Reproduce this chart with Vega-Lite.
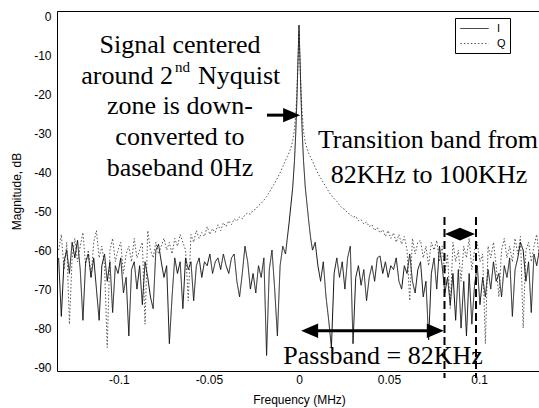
{
  "$schema": "https://vega.github.io/schema/vega-lite/v6.json",
  "autosize": {"type": "none"},
  "padding": {"left": 57, "top": 11, "right": 0, "bottom": 37},
  "width": 484,
  "height": 360,
  "background": "#ffffff",
  "config": {
    "view": {"stroke": "#000000", "strokeWidth": 1},
    "axis": {"domain": false, "ticks": false, "grid": false, "labelFont": "Liberation Sans", "labelFontSize": 12, "labelColor": "#000000", "titleFont": "Liberation Sans", "titleFontSize": 12, "titleFontWeight": "normal", "titleColor": "#000000"}
  },
  "datasets": {
    "spec": [
      {"f":-0.1335,"I":-62,"Q":-60},{"f":-0.132,"I":-77,"Q":-56},{"f":-0.1305,"I":-63,"Q":-65},{"f":-0.129,"I":-60,"Q":-58},
      {"f":-0.1275,"I":-66,"Q":-79},{"f":-0.126,"I":-58,"Q":-62},{"f":-0.1245,"I":-62,"Q":-57},{"f":-0.123,"I":-57.5,"Q":-63},
      {"f":-0.1215,"I":-65,"Q":-59},{"f":-0.12,"I":-78,"Q":-55.5},{"f":-0.1185,"I":-63,"Q":-64},{"f":-0.117,"I":-61,"Q":-60},
      {"f":-0.1155,"I":-67,"Q":-67},{"f":-0.114,"I":-62,"Q":-58},{"f":-0.1125,"I":-70,"Q":-55},{"f":-0.111,"I":-78,"Q":-62},
      {"f":-0.1095,"I":-64,"Q":-59},{"f":-0.108,"I":-61,"Q":-64},{"f":-0.1065,"I":-68,"Q":-85},{"f":-0.105,"I":-63,"Q":-60},
      {"f":-0.1035,"I":-76,"Q":-57},{"f":-0.102,"I":-64,"Q":-63},{"f":-0.1005,"I":-66,"Q":-60},{"f":-0.099,"I":-62,"Q":-58},
      {"f":-0.0975,"I":-71,"Q":-66},{"f":-0.096,"I":-67,"Q":-61},{"f":-0.0945,"I":-82,"Q":-59},{"f":-0.093,"I":-65,"Q":-63},
      {"f":-0.0915,"I":-63,"Q":-57},{"f":-0.09,"I":-70,"Q":-62},{"f":-0.0885,"I":-64,"Q":-60},{"f":-0.087,"I":-74,"Q":-58},
      {"f":-0.0855,"I":-63,"Q":-79},{"f":-0.084,"I":-67,"Q":-55},{"f":-0.0825,"I":-72,"Q":-60},{"f":-0.081,"I":-75,"Q":-62},
      {"f":-0.0795,"I":-60,"Q":-58},{"f":-0.078,"I":-58.5,"Q":-61},{"f":-0.0765,"I":-63,"Q":-59},{"f":-0.075,"I":-67,"Q":-57},
      {"f":-0.0735,"I":-64,"Q":-60},{"f":-0.072,"I":-84,"Q":-58},{"f":-0.0705,"I":-72,"Q":-61},{"f":-0.069,"I":-62,"Q":-57},
      {"f":-0.0675,"I":-66,"Q":-59},{"f":-0.066,"I":-63,"Q":-56},{"f":-0.0645,"I":-75,"Q":-58},{"f":-0.063,"I":-62,"Q":-60},
      {"f":-0.0615,"I":-65,"Q":-73},{"f":-0.06,"I":-63,"Q":-56},{"f":-0.0585,"I":-73,"Q":-58},{"f":-0.057,"I":-64,"Q":-55},
      {"f":-0.0555,"I":-62,"Q":-57},{"f":-0.054,"I":-67,"Q":-55.5},{"f":-0.0525,"I":-63,"Q":-56.5},{"f":-0.051,"I":-64,"Q":-54},
      {"f":-0.0495,"I":-61,"Q":-56},{"f":-0.048,"I":-66,"Q":-54.5},{"f":-0.0465,"I":-63,"Q":-55.5},{"f":-0.045,"I":-62,"Q":-53.5},
      {"f":-0.0435,"I":-65,"Q":-55},{"f":-0.042,"I":-61,"Q":-53},{"f":-0.0405,"I":-64,"Q":-54},{"f":-0.039,"I":-66,"Q":-52.5},
      {"f":-0.0375,"I":-62,"Q":-53.5},{"f":-0.036,"I":-61,"Q":-52},{"f":-0.0345,"I":-68,"Q":-52.5},{"f":-0.033,"I":-72,"Q":-51.5},
      {"f":-0.0315,"I":-66,"Q":-52},{"f":-0.03,"I":-59,"Q":-51},{"f":-0.0285,"I":-63,"Q":-50.5},{"f":-0.027,"I":-70,"Q":-50.8},
      {"f":-0.0255,"I":-66,"Q":-49.8},{"f":-0.024,"I":-71,"Q":-49.5},{"f":-0.0225,"I":-64,"Q":-48.6},{"f":-0.021,"I":-67,"Q":-48},
      {"f":-0.0195,"I":-62,"Q":-47.2},{"f":-0.018,"I":-87,"Q":-46.3},{"f":-0.0165,"I":-65,"Q":-45.2},{"f":-0.015,"I":-60,"Q":-44},
      {"f":-0.0135,"I":-70,"Q":-42.8},{"f":-0.012,"I":-82,"Q":-41.5},{"f":-0.0105,"I":-64,"Q":-40.2},{"f":-0.009,"I":-59,"Q":-38.6},
      {"f":-0.0075,"I":-61,"Q":-37},
      {"f":-0.0065,"I":-57,"Q":-36},{"f":-0.0055,"I":-53,"Q":-35},{"f":-0.0045,"I":-48.5,"Q":-33.8},{"f":-0.0035,"I":-44,"Q":-32},
      {"f":-0.0025,"I":-37,"Q":-29},{"f":-0.0018,"I":-30,"Q":-25},{"f":-0.0012,"I":-22,"Q":-20},{"f":-0.0006,"I":-12,"Q":-12},
      {"f":0,"I":-2.3,"Q":-4},
      {"f":0.0006,"I":-12,"Q":-12},{"f":0.0012,"I":-22,"Q":-20},{"f":0.0018,"I":-30,"Q":-25},{"f":0.0025,"I":-37,"Q":-29.5},
      {"f":0.0035,"I":-44,"Q":-32.5},{"f":0.0045,"I":-48.5,"Q":-34},{"f":0.0055,"I":-53,"Q":-35.3},{"f":0.0065,"I":-57,"Q":-36.3},
      {"f":0.0075,"I":-60,"Q":-37.2},{"f":0.009,"I":-58,"Q":-38.8},{"f":0.0105,"I":-64,"Q":-40.3},{"f":0.012,"I":-68,"Q":-41.5},
      {"f":0.0135,"I":-63,"Q":-42.7},{"f":0.015,"I":-72,"Q":-43.8},{"f":0.0165,"I":-78,"Q":-45},{"f":0.018,"I":-85,"Q":-46},
      {"f":0.0195,"I":-66,"Q":-46.8},{"f":0.021,"I":-62,"Q":-47.5},{"f":0.0225,"I":-67,"Q":-48.5},{"f":0.024,"I":-63,"Q":-49.2},
      {"f":0.0255,"I":-70,"Q":-49.6},{"f":0.027,"I":-62,"Q":-50.5},{"f":0.0285,"I":-59,"Q":-50.9},{"f":0.03,"I":-84,"Q":-51.6},
      {"f":0.0315,"I":-67,"Q":-51.3},{"f":0.033,"I":-64,"Q":-52.5},{"f":0.0345,"I":-69,"Q":-52.2},{"f":0.036,"I":-65,"Q":-53.3},
      {"f":0.0375,"I":-73,"Q":-52.8},{"f":0.039,"I":-67,"Q":-54},{"f":0.0405,"I":-64,"Q":-53.5},{"f":0.042,"I":-68,"Q":-55},
      {"f":0.0435,"I":-62,"Q":-54.2},{"f":0.045,"I":-61.5,"Q":-55.6},{"f":0.0465,"I":-66,"Q":-54.8},{"f":0.048,"I":-63,"Q":-56.5},
      {"f":0.0495,"I":-67,"Q":-55},{"f":0.051,"I":-64,"Q":-57},{"f":0.0525,"I":-65,"Q":-55.6},{"f":0.054,"I":-62,"Q":-58},
      {"f":0.0555,"I":-68,"Q":-56},{"f":0.057,"I":-70,"Q":-58.5},{"f":0.0585,"I":-64,"Q":-56.5},{"f":0.06,"I":-66,"Q":-60},
      {"f":0.0615,"I":-61,"Q":-73},{"f":0.063,"I":-68,"Q":-57},{"f":0.0645,"I":-71,"Q":-61},{"f":0.066,"I":-65,"Q":-58},
      {"f":0.0675,"I":-63,"Q":-57.5},{"f":0.069,"I":-72,"Q":-62},{"f":0.0705,"I":-68,"Q":-59},{"f":0.072,"I":-83,"Q":-64},
      {"f":0.0735,"I":-66,"Q":-58},{"f":0.075,"I":-62,"Q":-60},{"f":0.0765,"I":-70,"Q":-57.5},{"f":0.078,"I":-59,"Q":-63},
      {"f":0.0795,"I":-64,"Q":-59},{"f":0.081,"I":-71,"Q":-66},{"f":0.0825,"I":-67,"Q":-61},{"f":0.084,"I":-74,"Q":-75},
      {"f":0.0855,"I":-66,"Q":-58},{"f":0.087,"I":-78,"Q":-63},{"f":0.0885,"I":-65,"Q":-60},{"f":0.09,"I":-80,"Q":-68},
      {"f":0.0915,"I":-68,"Q":-59},{"f":0.093,"I":-82,"Q":-62},{"f":0.0945,"I":-66,"Q":-57},{"f":0.096,"I":-79,"Q":-65},
      {"f":0.0975,"I":-69,"Q":-60},{"f":0.099,"I":-64,"Q":-58},{"f":0.1005,"I":-74,"Q":-63},{"f":0.102,"I":-67,"Q":-61},
      {"f":0.1035,"I":-72,"Q":-84},{"f":0.105,"I":-65,"Q":-59},{"f":0.1065,"I":-70,"Q":-62},{"f":0.108,"I":-63,"Q":-58},
      {"f":0.1095,"I":-68,"Q":-64},{"f":0.111,"I":-66,"Q":-72},{"f":0.1125,"I":-72,"Q":-60},{"f":0.114,"I":-64,"Q":-57},
      {"f":0.1155,"I":-67,"Q":-62},{"f":0.117,"I":-62,"Q":-59},{"f":0.1185,"I":-77,"Q":-63},{"f":0.12,"I":-65,"Q":-57},
      {"f":0.1215,"I":-62,"Q":-61},{"f":0.123,"I":-58,"Q":-56.5},{"f":0.1245,"I":-60,"Q":-80},{"f":0.126,"I":-68,"Q":-60},
      {"f":0.1275,"I":-63,"Q":-58},{"f":0.129,"I":-76,"Q":-63},{"f":0.1305,"I":-61,"Q":-59},{"f":0.132,"I":-64,"Q":-56},
      {"f":0.1335,"I":-60,"Q":-62}
    ]
  },
  "encoding": {
    "x": {"field": "f", "type": "quantitative", "title": "Frequency (MHz)",
      "scale": {"domain": [-0.1344, 0.1344], "nice": false, "zero": false},
      "axis": {"values": [-0.1, -0.05, 0, 0.05, 0.1], "labelExpr": "'' + datum.value", "labelPadding": 3, "titlePadding": 9}},
    "y": {"field": "dB", "type": "quantitative", "title": "Magnitude, dB",
      "scale": {"domain": [-91, 1.3], "nice": false, "zero": false},
      "axis": {"values": [-90, -80, -70, -60, -50, -40, -30, -20, -10, 0], "labelExpr": "'' + datum.value", "labelPadding": 6, "titlePadding": 10}}
  },
  "layer": [
    {
      "data": {"name": "spec"},
      "transform": [{"fold": ["I", "Q"], "as": ["series", "dB"]}, {"filter": "datum.series === 'Q'"}],
      "mark": {"type": "line", "strokeWidth": 1, "clip": true},
      "encoding": {
        "color": {"field": "series", "type": "nominal", "scale": {"domain": ["I", "Q"], "range": ["#111111", "#555555"]},
          "legend": {"orient": "none", "legendX": 398, "legendY": 7, "title": null, "strokeColor": "#000000", "fillColor": "#ffffff", "padding": 4, "symbolType": "M-2.35,0L2.35,0", "symbolSize": 144, "symbolOffset": 9, "symbolStrokeWidth": 1, "labelFont": "Liberation Sans", "labelFontSize": 11, "labelColor": "#000000", "rowPadding": 3, "labelOffset": 16, "cornerRadius": 0}},
        "strokeDash": {"field": "series", "type": "nominal", "scale": {"domain": ["I", "Q"], "range": [[1, 0], [1.5, 2]]},
          "legend": {"orient": "none", "legendX": 398, "legendY": 7, "title": null, "strokeColor": "#000000", "fillColor": "#ffffff", "padding": 4, "symbolType": "M-2.35,0L2.35,0", "symbolSize": 144, "symbolOffset": 9, "symbolStrokeWidth": 1, "labelFont": "Liberation Sans", "labelFontSize": 11, "labelColor": "#000000", "rowPadding": 3, "labelOffset": 16, "cornerRadius": 0}}
      }
    },
    {
      "data": {"name": "spec"},
      "transform": [{"fold": ["I", "Q"], "as": ["series", "dB"]}, {"filter": "datum.series === 'I'"}],
      "mark": {"type": "line", "strokeWidth": 1, "clip": true},
      "encoding": {
        "color": {"field": "series", "type": "nominal"},
        "strokeDash": {"field": "series", "type": "nominal"}
      }
    },
    {
      "data": {"values": [{"f": 0.0808, "dB": -51.5, "dB2": -92.8}, {"f": 0.0983, "dB": -51.5, "dB2": -92.8}]},
      "mark": {"type": "rule", "color": "#000000", "strokeWidth": 2, "strokeDash": [8, 4], "clip": false},
      "encoding": {"y2": {"field": "dB2"}}
    },
    {
      "data": {"values": [{"f": -0.0178, "f2": -0.005, "dB": -25.4}, {"f": 0.0061, "f2": 0.0761, "dB": -80.7}]},
      "mark": {"type": "rule", "color": "#000000", "strokeWidth": 3},
      "encoding": {"x2": {"field": "f2"}}
    },
    {
      "data": {"values": [{"f": -0.0041, "dB": -25.4}, {"f": 0.0757, "dB": -80.7}]},
      "mark": {"type": "point", "shape": "M1,0L-1,-0.85L-1,0.85Z", "size": 289, "filled": true, "color": "#000000", "opacity": 1}
    },
    {
      "data": {"values": [{"f": 0.0059, "dB": -80.7}]},
      "mark": {"type": "point", "shape": "M-1,0L1,-0.85L1,0.85Z", "size": 289, "filled": true, "color": "#000000", "opacity": 1}
    },
    {
      "data": {"values": [{"f": 0.0894, "dB": -55.9}]},
      "mark": {"type": "point", "shape": "M-1,0L0,-0.43L1,0L0,0.43Z", "size": 900, "filled": true, "color": "#000000", "opacity": 1}
    },
    {
      "data": {"values": [
        {"f": -0.0661, "dB": -9.5, "t": "Signal centered"},
        {"f": -0.0661, "dB": -25.1, "t": "zone is down-"},
        {"f": -0.0661, "dB": -33.1, "t": "converted to"},
        {"f": -0.0661, "dB": -41.0, "t": "baseband 0Hz"},
        {"f": 0.0716, "dB": -33.8, "t": "Transition band from"},
        {"f": 0.0722, "dB": -42.8, "t": "82KHz to 100KHz"},
        {"f": 0.0467, "dB": -89.2, "t": "Passband = 82KHz"}
      ]},
      "mark": {"type": "text", "font": "Liberation Serif", "fontSize": 26, "align": "center", "baseline": "alphabetic", "color": "#000000", "clip": false},
      "encoding": {"text": {"field": "t"}}
    },
    {
      "data": {"values": [{"f": -0.07, "dB": -17.4, "t": "around 2"}]},
      "mark": {"type": "text", "font": "Liberation Serif", "fontSize": 26, "align": "right", "baseline": "alphabetic", "color": "#000000"},
      "encoding": {"text": {"field": "t"}}
    },
    {
      "data": {"values": [{"f": -0.0689, "dB": -14.4, "t": "nd"}]},
      "mark": {"type": "text", "font": "Liberation Serif", "fontSize": 15, "align": "left", "baseline": "alphabetic", "color": "#000000"},
      "encoding": {"text": {"field": "t"}}
    },
    {
      "data": {"values": [{"f": -0.0561, "dB": -17.4, "t": "Nyquist"}]},
      "mark": {"type": "text", "font": "Liberation Serif", "fontSize": 26, "align": "left", "baseline": "alphabetic", "color": "#000000"},
      "encoding": {"text": {"field": "t"}}
    }
  ]
}
